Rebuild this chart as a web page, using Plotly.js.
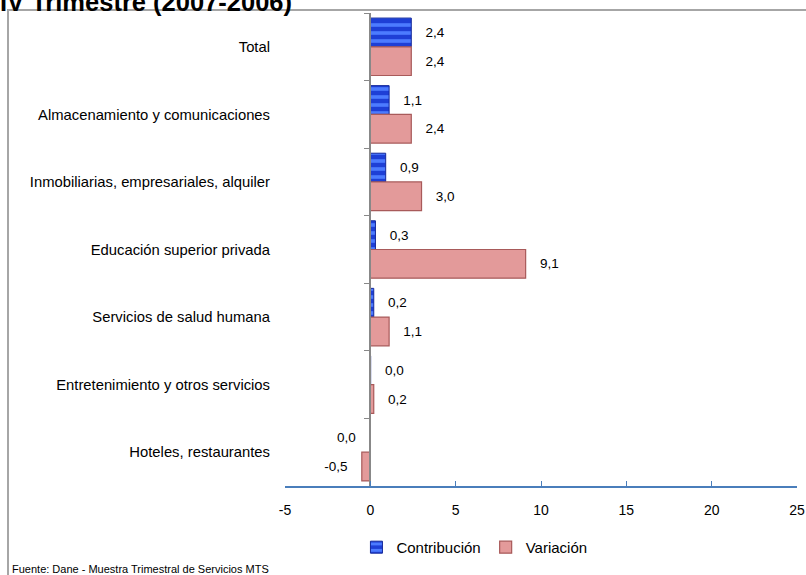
<!DOCTYPE html>
<html><head><meta charset="utf-8">
<script src="https://cdn.plot.ly/plotly-3.0.1.min.js"></script>
<style>html,body{margin:0;padding:0;background:#fff}#chart{width:806px;height:575px}</style>
</head><body><div id="chart"></div>
<script>
const categories = ["Total","Almacenamiento y comunicaciones","Inmobiliarias, empresariales, alquiler","Educación superior privada","Servicios de salud humana","Entretenimiento y otros servicios","Hoteles, restaurantes"];
const contribucion = [2.4, 1.1, 0.9, 0.3, 0.2, 0.02, -0.02];
const variacion = [2.4, 2.4, 3.0, 9.1, 1.1, 0.2, -0.5];
const xTicks = [-5, 0, 5, 10, 15, 20, 25];

function fmt(v){ let s = v.toFixed(1).replace('.', ','); if (s === '-0,0') s = '0,0'; return v < 0 ? s + '   ' : '   ' + s; }
const font = 'Liberation Sans, Arial, sans-serif';

const traces = [
  {type:'bar', orientation:'h', name:'Contribución', y:categories, x:contribucion,
   text:contribucion.map(fmt), textposition:'outside', cliponaxis:false,
   textfont:{family:font,size:13.5,color:'#000'},
   marker:{color:'#1E3FD6', line:{color:'#14289A',width:1},
     pattern:{shape:'-', fgcolor:'#4C7BFF', bgcolor:'#1E3FD6', size:8, solidity:0.45}}},
  {type:'bar', orientation:'h', name:'Variación', y:categories, x:variacion,
   text:variacion.map(fmt), textposition:'outside', cliponaxis:false,
   textfont:{family:font,size:13.5,color:'#000'},
   marker:{color:'#E39A9A', line:{color:'#A85A5A',width:1.2}}},
  {type:'scatter', mode:'none', y:categories, x:[null,null,null,null,null,null,null], yaxis:'y2', showlegend:false, hoverinfo:'skip'}
];

const layout = {
  width:806, height:575,
  margin:{l:285, r:9, t:13, b:89},
  paper_bgcolor:'#fff', plot_bgcolor:'#fff',
  barmode:'group', bargap:0.15, bargroupgap:0,
  font:{family:font, size:13, color:'#000'},
  separators:',.',
  title:{text:'<b>IV Trimestre (2007-2006)</b>', x:0.0, xref:'container', xanchor:'left',
         y:0.996, yref:'container', yanchor:'middle', font:{family:font,size:25.5,color:'#000'}, pad:{l:0,t:0}},
  xaxis:{range:[-5,25], tickvals:xTicks, ticktext:xTicks.map(String), showgrid:false, zeroline:false,
         showline:true, linecolor:'#4A7EBB', linewidth:2, ticks:'inside', ticklen:5, tickcolor:'#4A7EBB', tickwidth:1,
         ticklabelstandoff:10, tickfont:{family:font,size:14,color:'#000'}, fixedrange:true},
  yaxis:{type:'category', categoryarray:categories, autorange:'reversed', showgrid:false, zeroline:false,
         showline:false, ticks:'', ticklabelstandoff:14, tickfont:{family:font,size:14.8,color:'#000'}},
  yaxis2:{type:'category', categoryarray:categories, overlaying:'y', anchor:'free', position:5/30, side:'left',
          range:[6.5,-0.5], showgrid:false, zeroline:false, showline:true, linecolor:'#888', linewidth:2,
          ticks:'outside', tickson:'boundaries', ticklen:5, tickcolor:'#888', showticklabels:false},
  legend:{orientation:'h', x:0.37, xanchor:'center', y:-0.095, yanchor:'top',
          font:{family:font,size:15,color:'#000'}, itemwidth:30},
  annotations:[{text:'Fuente: Dane - Muestra Trimestral de Servicios MTS', xref:'paper', yref:'paper',
    x:-0.537, y:-0.175, xanchor:'left', yanchor:'middle', showarrow:false, font:{family:font,size:11,color:'#000'}}],
  shapes:[{type:'rect', xref:'paper', yref:'paper', x0:-0.541, x1:1.02, y0:-0.3, y1:1.0064,
           line:{color:'#A6A6A6', width:2}, fillcolor:'rgba(0,0,0,0)', layer:'below'}]
};
Plotly.newPlot('chart', traces, layout, {displayModeBar:false, staticPlot:true});
</script></body></html>
